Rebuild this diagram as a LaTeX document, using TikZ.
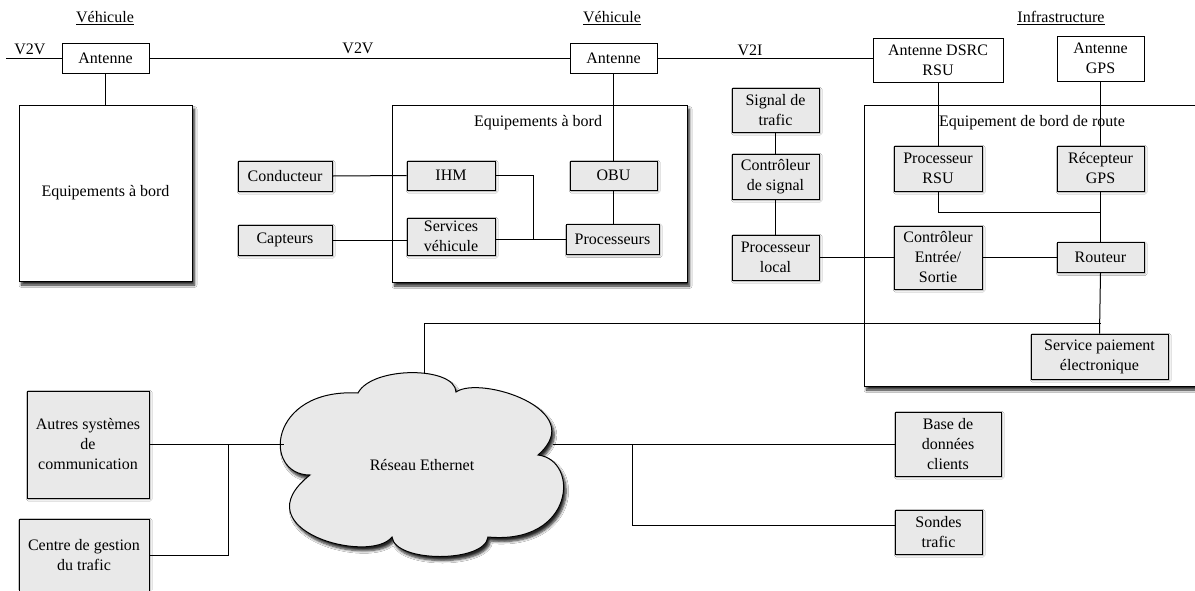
\documentclass[tikz,border=0pt]{standalone}
\usepackage{fontspec}
\setmainfont{Liberation Serif}
\usetikzlibrary{shadows.blur}
\definecolor{boxgray}{RGB}{233,233,233}
\tikzset{
  base/.style={draw=black, line width=1pt, align=center, inner sep=0pt, font=\fontsize{16}{20}\selectfont},
  wbox/.style={base, fill=white},
  gbox/.style={base, fill=boxgray, blur shadow={shadow xshift=1.2pt, shadow yshift=-1.2pt, shadow blur steps=3, shadow opacity=40}},
  bigshadow/.style={blur shadow={shadow xshift=2.5pt, shadow yshift=-4pt, shadow blur radius=2.5pt, shadow blur steps=6, shadow opacity=85}},
  bigbox/.style={base, fill=white, bigshadow},
  sz/.style 2 args={minimum width=#1pt, minimum height=#2pt},
  lbl/.style={font=\fontsize{16}{20}\selectfont, inner sep=0pt, align=center},
  conn/.style={line width=1pt},
}
\begin{document}
\begin{tikzpicture}[x=1pt,y=-1pt]
\clip (0,0) rectangle (1195,590);
\fill[white] (0,0) rectangle (1195,590);

% headings
\node[lbl] (hv1) at (105,18) {\underline{Véhicule}};
\node[lbl] (hv2) at (612,18) {\underline{Véhicule}};
\node[lbl] (hinf) at (1061,18) {\underline{Infrastructure}};

% containers
\node[bigbox, sz={173}{176}] (eq1) at (105.5,193) {Equipements à bord};
\node[bigbox, sz={295}{177}] (eq2) at (539.5,193.5) {};
\node[lbl] (eq2l) at (538,123) {Equipements à bord};
\node[bigbox, sz={351}{281}] (road) at (1039.5,245.5) {};
\node[lbl] (roadl) at (1032,123) {Equipement de bord de route};

% cloud
\path[draw=black, line width=1pt, fill=boxgray, bigshadow]
  (310,475) .. controls (262,475) and (268,388) .. (358,393)
  .. controls (372,366) and (455,366) .. (456,392)
  .. controls (480,375) and (590,410) .. (538,455)
  .. controls (580,460) and (575,545) .. (488,537)
  .. controls (485,563) and (395,563) .. (392,537)
  .. controls (370,565) and (240,530) .. (310,475) -- cycle;
\node[lbl] (net) at (422,465) {Réseau Ethernet};
\coordinate (netN) at (424,373);
\coordinate (netW) at (284,444);
\coordinate (netE) at (553,444);

% top antennas
\node[wbox, sz={87}{30}] (ant1) at (105.5,58) {Antenne};
\node[wbox, sz={87}{30}] (ant2) at (613.5,58) {Antenne};
\node[wbox, sz={130}{44}] (dsrc) at (938,60) {Antenne DSRC\\RSU};
\node[wbox, sz={87}{45}] (gpsant) at (1100.5,58.5) {Antenne\\GPS};

% vehicle nodes
\node[gbox, sz={94}{30}] (cond) at (285,176) {Conducteur};
\node[gbox, sz={94}{30}] (capt) at (285,240) {Capteurs};
\node[gbox, sz={88}{29}] (ihm) at (451,175.5) {IHM};
\node[gbox, sz={88}{37}] (serv) at (451,236.5) {Services\\véhicule};
\node[gbox, sz={87}{29}] (obu) at (613.5,175.5) {OBU};
\node[gbox, sz={93}{30}] (proc) at (612.5,239.5) {Processeurs};

% signal chain
\node[gbox, sz={87}{44}] (sig) at (775.5,110) {Signal de\\trafic};
\node[gbox, sz={87}{45}] (ctrl) at (775.5,176.5) {Contrôleur\\de signal};
\node[gbox, sz={87}{45}] (ploc) at (775.5,257.5) {Processeur\\local};

% roadside
\node[gbox, sz={88}{45}] (prsu) at (938,168.5) {Processeur\\RSU};
\node[gbox, sz={87}{45}] (rgps) at (1100.5,168.5) {Récepteur\\GPS};
\node[gbox, sz={88}{63}] (ces) at (938,257.5) {Contrôleur\\Entrée/\\Sortie};
\node[gbox, sz={87}{30}] (rout) at (1100.5,257.5) {Routeur};
\node[gbox, sz={137}{45}] (pay) at (1099.5,356.5) {Service paiement\\électronique};

% bottom nodes
\node[gbox, sz={122}{107}] (autres) at (88,444.5) {Autres systèmes\\de\\communication};
\node[gbox, sz={130}{73}] (centre) at (84,555.5) {Centre de gestion\\du trafic};
\node[gbox, sz={106}{64}] (bdd) at (948,444) {Base de\\données\\clients};
\node[gbox, sz={87}{44}] (sondes) at (938.5,532) {Sondes\\trafic};

% junctions
\coordinate (j1) at (533,239.5);
\coordinate (j2) at (1100.5,212);
\coordinate (j3) at (1100.5,323);
\coordinate (j4) at (228,444);
\coordinate (j5) at (632,444);
\coordinate (v2vl) at (6,58);

% connectors
\draw[conn] (v2vl) -- (ant1.west);
\node[lbl] (lv2v1) at (30,49) {V2V};
\draw[conn] (ant1.east) -- (ant2.west);
\node[lbl] (lv2v2) at (358,48) {V2V};
\draw[conn] (ant2.east) -- (ant2.east -| dsrc.west);
\node[lbl] (lv2i) at (750,50) {V2I};
\draw[conn] (ant1.south) -- (eq1.north);
\draw[conn] (ant2.south) -- (obu.north);
\draw[conn] (cond.east) -- (ihm.west);
\draw[conn] (capt.east) -- (capt.east -| serv.west);
\draw[conn] (ihm.east) -| (j1);
\draw[conn] (serv.east |- j1) -- (proc.west);
\draw[conn] (obu.south) -- (obu.south |- proc.north);
\draw[conn] (sig.south) -- (ctrl.north);
\draw[conn] (ctrl.south) -- (ploc.north);
\draw[conn] (ploc.east) -- (ces.west);
\draw[conn] (ces.east) -- (rout.west);
\draw[conn] (dsrc.south) -- (prsu.north);
\draw[conn] (gpsant.south) -- (rgps.north);
\draw[conn] (prsu.south) |- (j2);
\draw[conn] (rgps.south) -- (rout.north);
\draw[conn] (rout.south) -- (pay.north);
\draw[conn] (netN) |- (j3);
\draw[conn] (autres.east |- j4) -- (netW);
\draw[conn] (centre.east) -| (j4);
\draw[conn] (netE) -- (bdd.west);
\draw[conn] (j5) |- (sondes.west |- 0,525);
\end{tikzpicture}
\end{document}
